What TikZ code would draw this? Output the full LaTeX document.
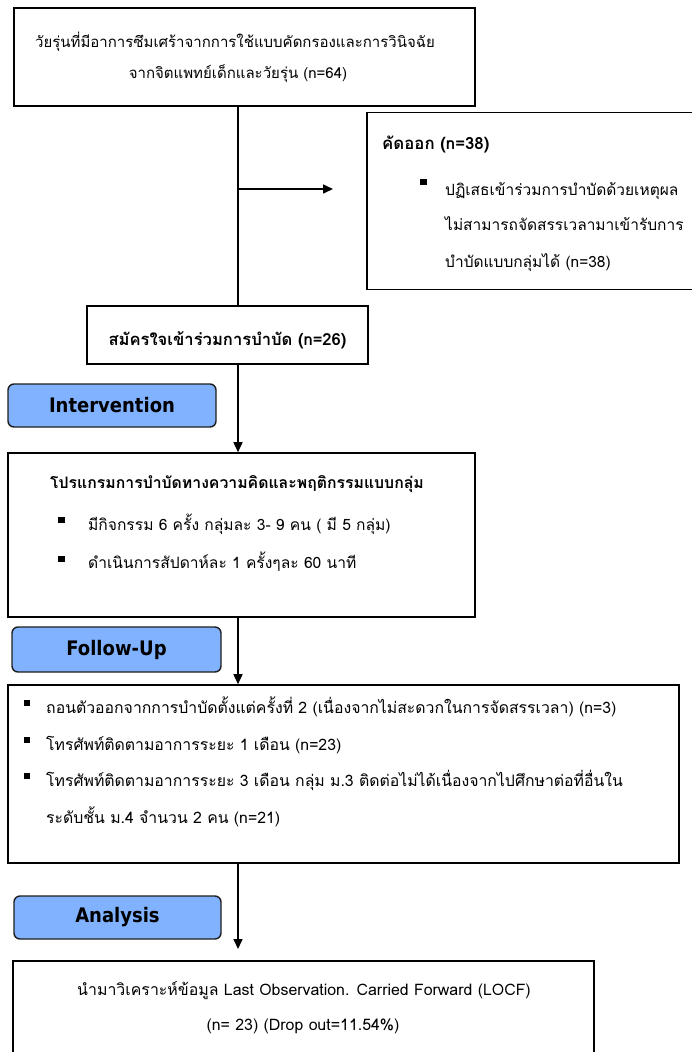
\documentclass[tikz,border=0pt]{standalone}
\usepackage{fontspec}
\setmainfont[Script=Thai]{Loma}
\newfontfamily\pillfont[FakeStretch=0.9]{DejaVu Sans}
\usetikzlibrary{arrows.meta}
\definecolor{pillblue}{RGB}{128,178,255}
\definecolor{pillline}{RGB}{30,30,30}
\begin{document}
\begin{tikzpicture}[x=1pt,y=-1pt,
  box/.style={draw=black, line width=1.6pt, fill=white, inner sep=0pt},
  pill/.style={draw=pillline, line width=1.4pt, fill=pillblue, rounded corners=6pt, inner sep=0pt, font=\pillfont\bfseries\fontsize{20}{24}\selectfont},
  txt/.style={inner sep=0pt, font=\fontsize{#1}{20}\selectfont},
  btxt/.style={inner sep=0pt, font=\bfseries\fontsize{#1}{20}\selectfont},
  bul/.style={fill=black, minimum size=6.5pt, inner sep=0pt},
  conn/.style={line width=1.6pt},
  arr/.style={line width=1.6pt, -{Triangle[length=10pt,width=9pt]}}]
\useasboundingbox (0,0) rectangle (691,1052);

% boxes
\node[box, minimum width=461pt, minimum height=98pt] (screen) at (244.5,57) {};
\node[box, minimum width=333pt, minimum height=177pt] (excl) at (533.5,201) {};
\node[box, minimum width=281pt, minimum height=58pt] (enroll) at (227.5,335) {};
\node[box, minimum width=467pt, minimum height=164pt] (prog) at (241.5,535) {};
\node[box, minimum width=671pt, minimum height=178pt] (fu) at (343.5,774) {};
\node[box, minimum width=581pt, minimum height=109pt] (ana) at (303.5,1015.5) {};

% pills
\node[pill, minimum width=208pt, minimum height=43pt] (interv) at (112,405.5) {Intervention};
\node[pill, minimum width=209pt, minimum height=45pt] (follow) at (116.5,649.5) {Follow-Up};
\node[pill, minimum width=207pt, minimum height=43pt] (analysis) at (117.5,917.5) {Analysis};

% connectors
\coordinate (spine) at (238,0);
\coordinate (brstart) at (238,189);
\coordinate (brend) at (333,189);
\coordinate (antip) at (238,949);
\draw[conn] (screen.south -| spine) -- (enroll.north -| spine);
\draw[arr] (brstart) -- (brend);
\draw[arr] (enroll.south -| spine) -- (prog.north -| spine);
\draw[arr] (prog.south -| spine) -- (fu.north -| spine);
\draw[arr] (fu.south -| spine) -- (antip);

% screen text
\node[txt=15, anchor=base] (s1) at (235,47) {วัยรุ่นที่มีอาการซึมเศร้าจากการใช้แบบคัดกรองและการวินิจฉัย};
\node[txt=15, anchor=base] (s2) at (238,78) {จากจิตแพทย์เด็กและวัยรุ่น (n=64)};

% exclusion text
\node[btxt=16.8, anchor=base west] (e0) at (382,149) {คัดออก (n=38)};
\node[bul] (eb1) at (423.5,182) {};
\node[txt=15.5, anchor=base west] (e1) at (445,195) {ปฏิเสธเข้าร่วมการบำบัดด้วยเหตุผล};
\node[txt=15.5, anchor=base west] (e2) at (445,230) {ไม่สามารถจัดสรรเวลามาเข้ารับการ};
\node[txt=15.5, anchor=base west] (e3) at (445,267) {บำบัดแบบกลุ่มได้ (n=38)};

% enroll text
\node[btxt=16.6, anchor=base] (n1) at (227.5,345) {สมัครใจเข้าร่วมการบำบัด (n=26)};

% program text
\node[btxt=15.8, anchor=base west] (p0) at (50,488) {โปรแกรมการบำบัดทางความคิดและพฤติกรรมแบบกลุ่ม};
\node[bul] (pb1) at (61.5,520) {};
\node[txt=15.6, anchor=base west] (p1) at (88,530) {มีกิจกรรม 6 ครั้ง กลุ่มละ 3- 9 คน ( มี 5 กลุ่ม)};
\node[bul] (pb2) at (61.5,559) {};
\node[txt=15.6, anchor=base west] (p2) at (88,568) {ดำเนินการสัปดาห์ละ 1 ครั้งๆละ 60 นาที};

% follow-up text
\node[bul] (fb1) at (27,703) {};
\node[txt=15.8, anchor=base west] (f1) at (46,713) {ถอนตัวออกจากการบำบัดตั้งแต่ครั้งที่ 2 (เนื่องจากไม่สะดวกในการจัดสรรเวลา) (n=3)};
\node[bul] (fb2) at (27,740) {};
\node[txt=15.8, anchor=base west] (f2) at (46,750) {โทรศัพท์ติดตามอาการระยะ 1 เดือน (n=23)};
\node[bul] (fb3) at (27,776) {};
\node[txt=15.8, anchor=base west] (f3) at (46,786) {โทรศัพท์ติดตามอาการระยะ 3 เดือน กลุ่ม ม.3 ติดต่อไม่ได้เนื่องจากไปศึกษาต่อที่อื่นใน};
\node[txt=15.8, anchor=base west] (f4) at (46,823) {ระดับชั้น ม.4 จำนวน 2 คน (n=21)};

% analysis text
\node[txt=15.9, anchor=base] (a1) at (304,995) {นำมาวิเคราะห์ข้อมูล Last Observation. Carried Forward (LOCF)};
\node[txt=15.9, anchor=base] (a2) at (303,1030) {(n= 23) (Drop out=11.54\%)};
\end{tikzpicture}
\end{document}
